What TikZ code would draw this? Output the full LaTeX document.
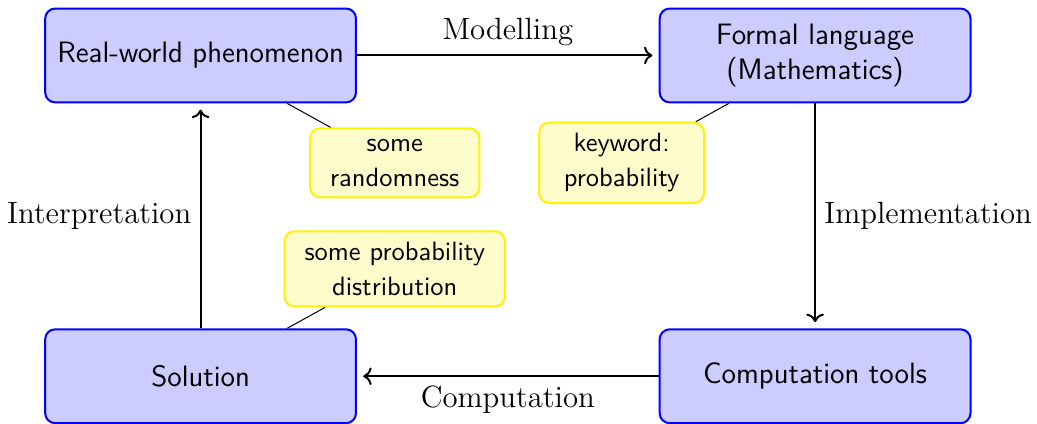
\documentclass[tikz,border=0pt]{standalone}
\usepackage{fontspec}
\usetikzlibrary{arrows.meta}

\begin{document}
\begin{tikzpicture}[
  block/.style={draw=blue, thick, fill=blue!20, rounded corners, minimum width=4.37cm, minimum height=1.32cm, align=center, font=\sffamily\fontsize{11.8}{14}\selectfont},
  note/.style={draw=yellow, thick, fill=yellow!20, rounded corners, inner xsep=8pt, inner ysep=4.3pt, align=center, font=\sffamily\fontsize{10.6}{14}\selectfont},
  lbl/.style={font=\fontsize{12.3}{14}\selectfont},
  flow/.style={->, thick, shorten >=2.5pt}
]
\useasboundingbox (0,0) rectangle (14.58,5.95);

% the four stages
\node[block] (real) at (2.82,5.17) {Real-world phenomenon};
\node[block] (formal) at (11.46,5.17) {Formal language\\(Mathematics)};
\node[block] (comp) at (11.46,0.66) {Computation tools};
\node[block] (sol) at (2.82,0.66) {Solution};

% remarks
\node[note, minimum width=66pt] (rnd) at (5.55,3.66) {some\\randomness};
\node[note, minimum width=66pt] (kw) at (8.74,3.66) {keyword:\\probability};
\node[note] (dist) at (5.55,2.17) {some probability\\distribution};

\draw[thin] (rnd) -- (real);
\draw[thin] (kw) -- (formal);
\draw[thin] (dist) -- (sol);

% the cycle
\draw[flow] (real) -- node[above, lbl] {Modelling} (formal);
\draw[flow] (formal) -- node[right, lbl] {Implementation} (comp);
\draw[flow] (comp) -- node[below, lbl] {Computation} (sol);
\draw[flow] (sol) -- node[left, lbl] {Interpretation} (real);
\end{tikzpicture}
\end{document}
